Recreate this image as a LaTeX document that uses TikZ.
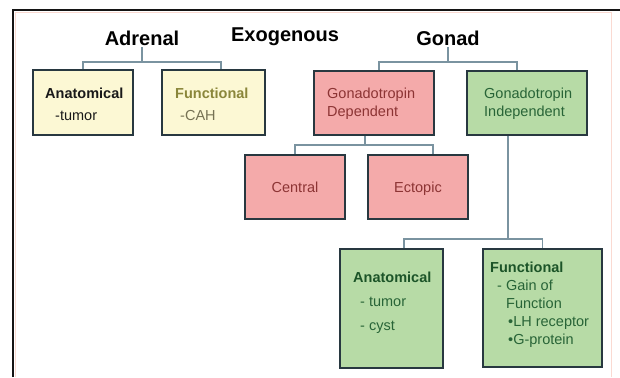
\documentclass[tikz,border=0pt]{standalone}
\usepackage{fontspec}
\setmainfont{Liberation Sans}
\usepackage{tikz}
\usetikzlibrary{positioning}
\usetikzlibrary{calc}

\definecolor{frameline}{RGB}{20,20,20}
\definecolor{framepink}{RGB}{250,218,210}
\definecolor{boxline}{RGB}{40,56,64}
\definecolor{branchline}{RGB}{122,147,160}
\definecolor{creamfill}{RGB}{252,248,212}
\definecolor{pinkfill}{RGB}{244,170,170}
\definecolor{greenfill}{RGB}{183,219,166}
\definecolor{olivetext}{RGB}{138,134,58}
\definecolor{olivegray}{RGB}{118,114,84}
\definecolor{redtext}{RGB}{140,52,52}
\definecolor{greentext}{RGB}{40,100,55}
\definecolor{darkgreentext}{RGB}{28,84,40}

\tikzset{
    head/.style={font=\fontsize{20}{24}\selectfont\bfseries, text=black, inner sep=1pt},
    box/.style={draw=boxline, line width=1.6pt, inner sep=0pt},
    adrbox/.style={box, fill=creamfill},
    redbox/.style={box, fill=pinkfill, text=redtext, font=\fontsize{14.5}{17}\selectfont,
        text height=10.5pt, text depth=0pt},
    greenbox/.style={box, fill=greenfill},
    boxtext/.style={anchor=north west, inner sep=0pt, align=left},
    branch/.style={draw=branchline, line width=1.2pt},
}

\begin{document}
\begin{tikzpicture}[x=1pt,y=-1pt]
\useasboundingbox (0,0) rectangle (620,377);

% frame
\draw [framepink, line width=0.8pt] (15,377) -- (15,12) -- (611,12) -- (611,377);
\draw [frameline, line width=1.5pt] (13,377) -- (13,10) -- (620,10);

% headings
\node [head] at (142,38.5) (adrenal) {Adrenal};
\node [head] at (285,37) (exogenous) {Exogenous};
\node [head] at (448,38) (gonad) {Gonad};

% adrenal branch
\node [adrbox, minimum width=100pt, minimum height=65pt] at (83,102.5) (adrAnat) {};
\node [adrbox, minimum width=103pt, minimum height=65pt] at (213.5,102.5) (adrFunc) {};
\node [boxtext, font=\fontsize{14.5}{22}\selectfont, text=black!90] at (45,88) (adrAnatTxt)
    {\textbf{Anatomical}\\\hspace*{10pt}-tumor};
\node [boxtext, font=\fontsize{14.5}{22}\selectfont] at (175,88) (adrFuncTxt)
    {\textcolor{olivetext}{\textbf{Functional}}\\\hspace*{5pt}\textcolor{olivegray}{-CAH}};

% gonad branch
\node [redbox, minimum width=120pt, minimum height=64pt] at (374,103) (gonDep) {};
\node [greenbox, minimum width=120pt, minimum height=64pt] at (527,103) (gonIndep) {};
\node [boxtext, font=\fontsize{14.5}{18}\selectfont, text=redtext] at (327,87.5) (gonDepTxt)
    {Gonadotropin\\Dependent};
\node [boxtext, font=\fontsize{14.5}{18}\selectfont, text=greentext] at (484,87.5) (gonIndepTxt)
    {Gonadotropin\\Independent};

\node [redbox, minimum width=100pt, minimum height=64pt] at (295,187) (central) {Central};
\node [redbox, minimum width=100pt, minimum height=64pt] at (418,187) (ectopic) {Ectopic};

\node [greenbox, minimum width=103pt, minimum height=119pt] at (391.5,308.5) (gonAnat) {};
\node [greenbox, minimum width=119pt, minimum height=118pt] at (542.5,308) (gonFunc) {};
\node [boxtext, font=\fontsize{14.5}{24}\selectfont, text=greentext] at (353,272) (gonAnatTxt)
    {\textcolor{darkgreentext}{\textbf{Anatomical}}\\\hspace*{7pt}- tumor\\\hspace*{7pt}- cyst};
\node [boxtext, font=\fontsize{14.5}{18}\selectfont, text=greentext] at (490,262) (gonFuncTxt)
    {\textcolor{darkgreentext}{\textbf{Functional}}\\\hspace*{7pt}- Gain of\\\hspace*{16pt}Function\\
     \hspace*{18pt}\textbullet LH receptor\\\hspace*{18pt}\textbullet G-protein};

% connectors
\coordinate (adrJoin) at (142,62);
\coordinate (gonJoin) at (448,62);
\coordinate (depJoin) at (365,145);
\coordinate (indepJoin) at (508,239);

\draw [branch] (adrenal.south) -- (adrJoin);
\draw [branch] (adrAnat.north) |- (adrJoin) -| ([xshift=7.5pt]adrFunc.north);

\draw [branch] (gonad.south) -- (gonJoin);
\draw [branch] ([xshift=5pt]gonDep.north) |- (gonJoin) -| ([xshift=-10pt]gonIndep.north);

\draw [branch] (gonDep.south -| depJoin) -- (depJoin);
\draw [branch] (central.north) |- (depJoin) -| ([xshift=15pt]ectopic.north);

\draw [branch] (gonIndep.south -| indepJoin) -- (indepJoin);
\draw [branch] ([xshift=12.5pt]gonAnat.north) |- (indepJoin) -| (gonFunc.north);

\end{tikzpicture}
\end{document}
